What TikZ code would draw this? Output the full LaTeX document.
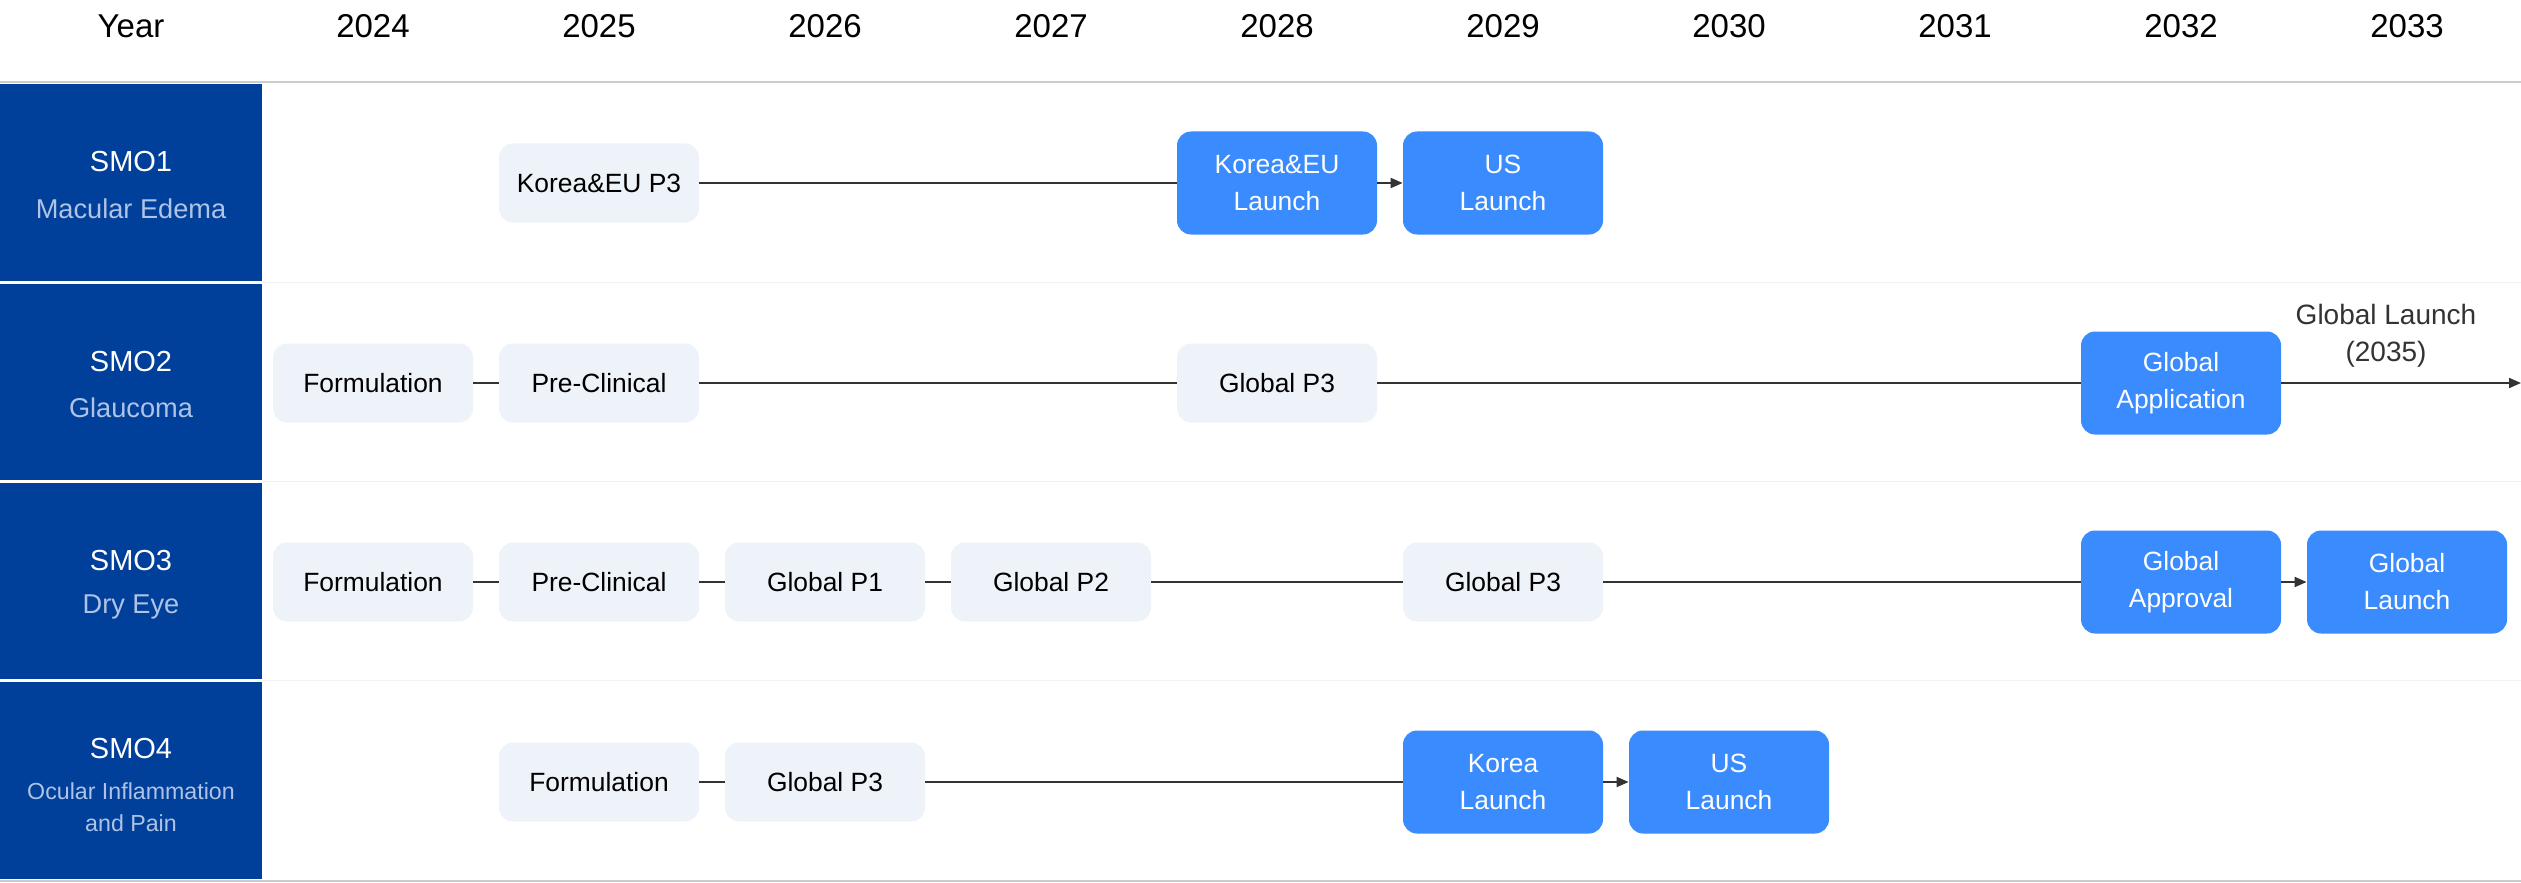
\documentclass[tikz,border=0pt]{standalone}
\usepackage{fontspec}
\setmainfont{Liberation Sans}
\usetikzlibrary{arrows.meta}
\definecolor{navy}{HTML}{00409A}
\definecolor{btnblue}{HTML}{3A8BFD}
\definecolor{pale}{HTML}{EEF2F9}
\definecolor{subtxt}{HTML}{AFC3E6}
\definecolor{linec}{HTML}{333333}
\definecolor{sepc}{HTML}{F2F2F2}
\definecolor{hdrc}{HTML}{CCCCCC}
\begin{document}
\begin{tikzpicture}[x=0.5pt,y=-0.5pt,
  phase/.style={fill=pale,rounded corners=7pt,minimum width=100pt,minimum height=39.5pt,inner sep=0pt,align=center,font=\fontsize{13.2}{18.5}\selectfont,text=black},
  milestone/.style={fill=btnblue,rounded corners=7pt,minimum width=100pt,minimum height=51.5pt,inner sep=0pt,align=center,font=\fontsize{13.2}{18.5}\selectfont,text=white},
  link/.style={draw=linec,line width=1pt},
  arr/.style={link,-{Triangle[length=6pt,width=5pt]}},
  yearlbl/.style={font=\fontsize{16.5}{20}\selectfont,text=black,inner sep=0pt},
  rowtitle/.style={font=\fontsize{14.5}{17}\selectfont,text=white,inner sep=0pt},
  rowsub/.style={font=\fontsize{13.6}{16}\selectfont,text=subtxt,inner sep=0pt,align=center},
  rowsubsmall/.style={font=\fontsize{11.6}{16}\selectfont,text=subtxt,inner sep=0pt,align=center},
  navycell/.style={fill=navy,draw=none},
  sepline/.style={draw=sepc,line width=0.75pt},
  hdrline/.style={draw=hdrc,line width=1pt}
]
\useasboundingbox (0,0) rectangle (2521,883);
% grid
\fill[navycell] (0,84) rectangle (262,281);
\fill[navycell] (0,284) rectangle (262,480);
\fill[navycell] (0,483) rectangle (262,679);
\fill[navycell] (0,682) rectangle (262,879);
\draw[hdrline] (0,82) -- (2521,82);
\draw[hdrline] (0,881) -- (2521,881);
\draw[sepline] (263,282.5) -- (2521,282.5);
\draw[sepline] (263,481.5) -- (2521,481.5);
\draw[sepline] (263,680.5) -- (2521,680.5);
% header
\node[yearlbl] (hyear) at (131,26) {Year};
\node[yearlbl] (h2024) at (373,26) {2024};
\node[yearlbl] (h2025) at (599,26) {2025};
\node[yearlbl] (h2026) at (825,26) {2026};
\node[yearlbl] (h2027) at (1051,26) {2027};
\node[yearlbl] (h2028) at (1277,26) {2028};
\node[yearlbl] (h2029) at (1503,26) {2029};
\node[yearlbl] (h2030) at (1729,26) {2030};
\node[yearlbl] (h2031) at (1955,26) {2031};
\node[yearlbl] (h2032) at (2181,26) {2032};
\node[yearlbl] (h2033) at (2407,26) {2033};
% row titles
\node[rowtitle] (t1) at (131,162) {SMO1};
\node[rowsub] (s1) at (131,209) {Macular Edema};
\node[rowtitle] (t2) at (131,362) {SMO2};
\node[rowsub] (s2) at (131,408) {Glaucoma};
\node[rowtitle] (t3) at (131,561) {SMO3};
\node[rowsub] (s3) at (131,607) {Dry Eye};
\node[rowtitle] (t4) at (131,749) {SMO4};
\node[rowsubsmall] (s4) at (131,807) {Ocular Inflammation\\and Pain};
% row 1
\node[phase] (a1) at (599,183) {Korea\&EU P3};
\node[milestone] (a2) at (1277,183) {Korea\&EU\\Launch};
\node[milestone] (a3) at (1503,183) {US\\Launch};
\draw[link] (a1) -- (a2);
\draw[arr] (a2) -- (a3);
% row 2
\node[phase] (b1) at (373,383) {Formulation};
\node[phase] (b2) at (599,383) {Pre-Clinical};
\node[phase] (b3) at (1277,383) {Global P3};
\node[milestone] (b4) at (2181,383) {Global\\Application};
\coordinate (bend) at (2521,383);
\node[font=\fontsize{14}{18.5}\selectfont,text=linec,align=center,inner sep=0pt] (b5) at (2386,336) {Global Launch\\(2035)};
\draw[link] (b1) -- (b2);
\draw[link] (b2) -- (b3);
\draw[link] (b3) -- (b4);
\draw[arr] (b4) -- (bend);
% row 3
\node[phase] (c1) at (373,582) {Formulation};
\node[phase] (c2) at (599,582) {Pre-Clinical};
\node[phase] (c3) at (825,582) {Global P1};
\node[phase] (c4) at (1051,582) {Global P2};
\node[phase] (c5) at (1503,582) {Global P3};
\node[milestone] (c6) at (2181,582) {Global\\Approval};
\node[milestone] (c7) at (2407,582) {Global\\Launch};
\draw[link] (c1) -- (c2);
\draw[link] (c2) -- (c3);
\draw[link] (c3) -- (c4);
\draw[link] (c4) -- (c5);
\draw[link] (c5) -- (c6);
\draw[arr] (c6) -- (c7);
% row 4
\node[phase] (d1) at (599,782) {Formulation};
\node[phase] (d2) at (825,782) {Global P3};
\node[milestone] (d3) at (1503,782) {Korea\\Launch};
\node[milestone] (d4) at (1729,782) {US\\Launch};
\draw[link] (d1) -- (d2);
\draw[link] (d2) -- (d3);
\draw[arr] (d3) -- (d4);
\end{tikzpicture}
\end{document}
